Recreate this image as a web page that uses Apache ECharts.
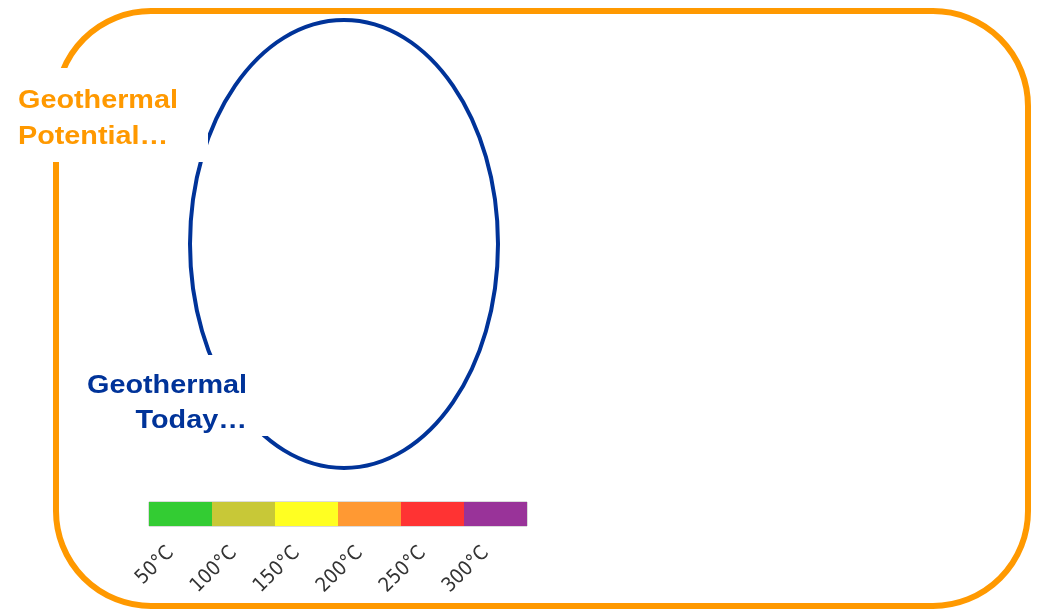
<!DOCTYPE html>
<html><head><meta charset="utf-8">
<script src="https://cdn.jsdelivr.net/npm/echarts@6/dist/echarts.min.js"></script>
<style>html,body{margin:0;padding:0;background:#fff}#c{width:1038px;height:610px}</style>
</head><body><div id="c"></div>
<script>
const tempLabels = ['50°C', '100°C', '150°C', '200°C', '250°C', '300°C'];
const bandValues = [1, 1, 1, 1, 1, 1];
const bandColors = ['#33CC33', '#C8C837', '#FFFF22', '#FF9933', '#FF3333', '#993399'];
const potentialText = ['Geothermal', 'Potential…'];
const todayText = ['Geothermal', 'Today…'];

const chart = echarts.init(document.getElementById('c'));
const titleFont = 'bold 26px "Liberation Sans", Arial, sans-serif';

chart.setOption({
  animation: false,
  backgroundColor: '#ffffff',
  grid: { left: 149, top: 502, width: 378, height: 24, show: true, borderColor: '#b8b8b8', borderWidth: 1, backgroundColor: 'transparent' },
  xAxis: {
    type: 'category',
    data: tempLabels,
    axisLine: { show: false },
    axisTick: { show: false },
    splitLine: { show: false },
    axisLabel: {
      rotate: 45,
      margin: 14,
      padding: [0, 14, 0, 0],
      color: '#333333',
      fontSize: 20,
      fontFamily: '"DejaVu Sans Condensed", "Liberation Sans Narrow", sans-serif'
    }
  },
  yAxis: { type: 'value', min: 0, max: 1, show: false },
  series: [{
    type: 'bar',
    barCategoryGap: '0%',
    silent: true,
    data: bandValues.map((v, i) => ({ value: v, itemStyle: { color: bandColors[i] } }))
  }],
  graphic: [
    { type: 'rect', z: 1, shape: { x: 56, y: 11, width: 972, height: 595, r: 95 },
      style: { fill: 'none', stroke: '#FF9900', lineWidth: 6 } },
    { type: 'ellipse', z: 2, shape: { cx: 344, cy: 244, rx: 154, ry: 224 },
      style: { fill: 'none', stroke: '#003399', lineWidth: 4 } },
    { type: 'rect', z: 3, shape: { x: 8, y: 68, width: 200, height: 94 },
      style: { fill: '#ffffff' } },
    { type: 'rect', z: 3, shape: { x: 78, y: 355, width: 190, height: 81 },
      style: { fill: '#ffffff' } },
    { type: 'text', z: 4, x: 18, y: 83, scaleX: 1.107,
      style: { text: potentialText.join('\n'), font: titleFont, fill: '#FF9900', lineHeight: 36, textAlign: 'left', textVerticalAlign: 'top' } },
    { type: 'text', z: 4, x: 247, y: 368, scaleX: 1.107,
      style: { text: todayText.join('\n'), font: titleFont, fill: '#003399', lineHeight: 35, textAlign: 'right', textVerticalAlign: 'top' } }
  ]
});
</script>
</body></html>
